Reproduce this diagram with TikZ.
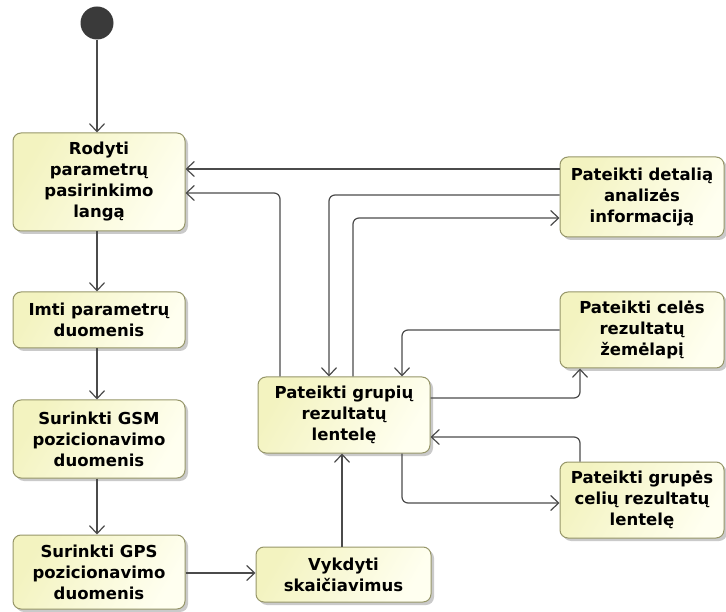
\documentclass[tikz,border=0pt]{standalone}
\usepackage{fontspec}
\setmainfont{DejaVu Sans}
\usetikzlibrary{arrows.meta,shadows}
\definecolor{boxfillA}{RGB}{243,243,192}
\definecolor{boxfillB}{RGB}{255,255,240}
\definecolor{boxline}{RGB}{150,150,105}
\definecolor{flow}{RGB}{75,75,75}
\definecolor{startdot}{RGB}{58,58,58}
\tikzset{
  act/.style={draw=boxline, line width=1pt, rounded corners=8pt,
    shading=axis, left color=boxfillA, right color=boxfillB, shading angle=60,
    drop shadow={shadow xshift=3pt, shadow yshift=-3pt, fill=black!35, opacity=.6},
    align=center, inner sep=0pt, minimum width=172pt,
    font=\bfseries\fontsize{16.5}{21}\selectfont},
  actr/.style={act, minimum width=164pt},
  flowline/.style={draw=flow, line width=1.2pt, rounded corners=6pt,
    -{Straight Barb[length=8pt,width=15pt,line width=1.2pt]}},
}
\begin{document}
\begin{tikzpicture}[x=1pt,y=-1pt]
  \useasboundingbox (0,0) rectangle (726,612);

  % initial node
  \node (start) [circle, fill=startdot, minimum size=33pt, inner sep=0pt] at (97,23) {};

  % left column
  \node (rodyti) [act, minimum height=98pt] at (99,182) {Rodyti\\parametrų\\pasirinkimo\\langą};
  \node (imti) [act, minimum height=56pt] at (99,320) {Imti parametrų\\duomenis};
  \node (gsm) [act, minimum height=78pt] at (99,439) {Surinkti GSM\\pozicionavimo\\duomenis};
  \node (gps) [act, minimum height=74pt] at (99,572) {Surinkti GPS\\pozicionavimo\\duomenis};

  % middle column
  \node (grupiu) [act, minimum height=76pt] at (344,415) {Pateikti grupių\\rezultatų\\lentelę};
  \node (vykdyti) [act, minimum height=55pt, minimum width=175pt] at (343.5,574.5) {Vykdyti\\skaičiavimus};

  % right column
  \node (detalia) [actr, minimum height=80pt] at (642,197) {Pateikti detalią\\analizės\\informaciją};
  \node (celes) [actr, minimum height=76pt] at (642,330) {Pateikti celės\\rezultatų\\žemėlapį};
  \node (grupes) [actr, minimum height=76pt] at (642,500) {Pateikti grupės\\celių rezultatų\\lentelę};

  % routing guides
  \coordinate (xa) at (97,0);
  \coordinate (xb) at (280,0);
  \coordinate (xc) at (329,0);
  \coordinate (xd) at (353,0);
  \coordinate (xe) at (402,0);
  \coordinate (xf) at (580,0);
  \coordinate (xg) at (342,0);
  \coordinate (ya) at (0,169);
  \coordinate (yb) at (0,193);
  \coordinate (yc) at (0,195);
  \coordinate (yd) at (0,218);
  \coordinate (ye) at (0,330);
  \coordinate (yf) at (0,398);
  \coordinate (yg) at (0,437);
  \coordinate (yh) at (0,503);
  \coordinate (yi) at (0,573);

  % main sequence
  \draw[flowline] (start) -- (xa |- rodyti.north);
  \draw[flowline] (xa |- rodyti.south) -- (xa |- imti.north);
  \draw[flowline] (xa |- imti.south) -- (xa |- gsm.north);
  \draw[flowline] (xa |- gsm.south) -- (xa |- gps.north);
  \draw[flowline] (gps.east |- yi) -- (vykdyti.west |- yi);
  \draw[flowline] (xg |- vykdyti.north) -- (xg |- grupiu.south);

  % returns to the parameter window
  \draw[flowline] (detalia.west |- ya) -- (rodyti.east |- ya);
  \draw[flowline] (grupiu.north -| xb) |- (rodyti.east |- yb);

  % detail analysis
  \draw[flowline] (detalia.west |- yc) -| (grupiu.north -| xc);
  \draw[flowline] (grupiu.north -| xd) |- (detalia.west |- yd);

  % cell map
  \draw[flowline] (celes.west |- ye) -| (grupiu.north -| xe);
  \draw[flowline] (grupiu.east |- yf) -| (celes.south -| xf);

  % group cell table
  \draw[flowline] (grupes.north -| xf) |- (grupiu.east |- yg);
  \draw[flowline] (grupiu.south -| xe) |- (grupes.west |- yh);
\end{tikzpicture}
\end{document}
